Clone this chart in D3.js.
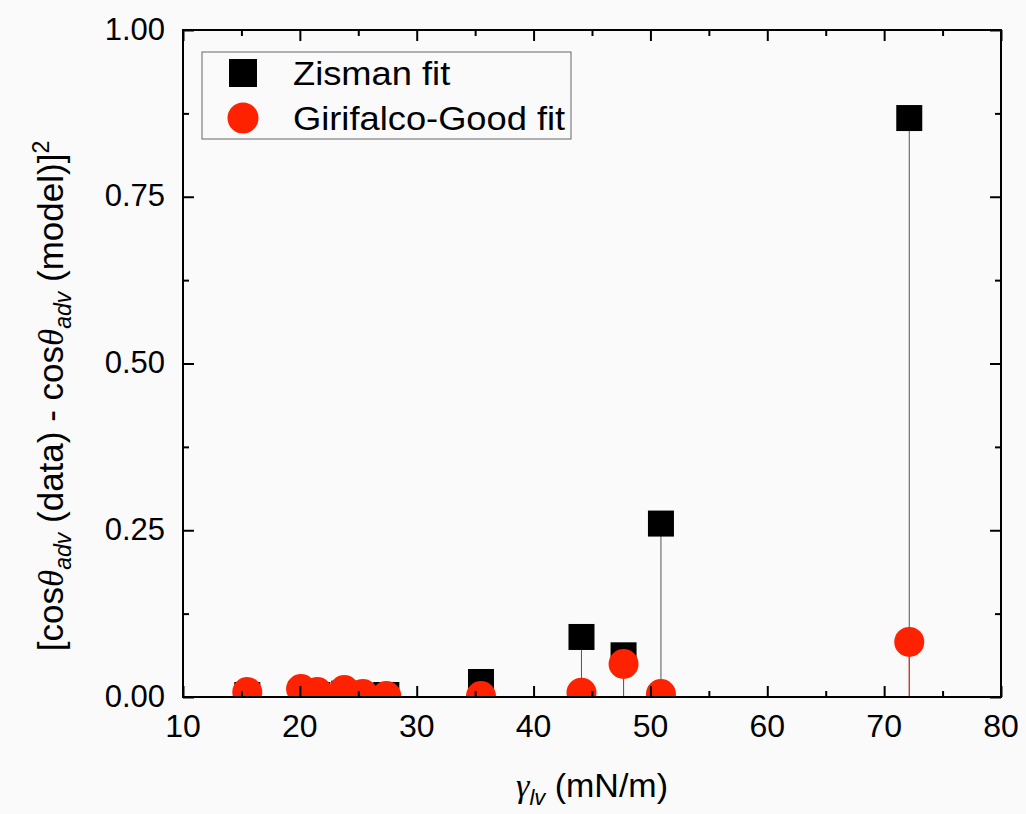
<!DOCTYPE html>
<html>
<head>
<meta charset="utf-8">
<script src="https://cdn.jsdelivr.net/npm/d3@7"></script>
<style>
  body { margin: 0; background: #fafafa; }
  text { font-family: 'Liberation Sans', Arial, sans-serif; }
  .greek { font-family: 'Liberation Serif', 'Times New Roman', serif; font-style: italic; }
</style>
</head>
<body>
<script>
// surface tension of each liquid (mN/m)
let gammaLv = [15.5, 20.1, 21.5, 23.8, 25.4, 27.4, 35.5, 44.1, 47.7, 50.9, 72.15]
// squared residuals of each model
let zisman = [0.003, 0.004, 0.003, 0.005, 0.002, 0.003, 0.0225, 0.09, 0.0625, 0.26, 0.868]
let girifalco = [0.0075, 0.012, 0.0075, 0.0105, 0.0045, 0.0015, 0.0015, 0.0065, 0.0495, 0.0045, 0.0825]

let xTicks = [10, 20, 30, 40, 50, 60, 70, 80]
let yTicks = [0, 0.25, 0.5, 0.75, 1.0]
let legendLabels = ['Zisman fit', 'Girifalco-Good fit']

let m = { width: 1026, height: 814, left: 183, right: 1001, top: 30, bottom: 697 }
let red = '#ff2200'

let svg = d3.select('body')
  .append('svg')
  .attr('width', m.width)
  .attr('height', m.height)

let x = d3.scaleLinear().domain([10, 80]).range([m.left, m.right])
let y = d3.scaleLinear().domain([0, 1]).range([m.bottom, m.top])

svg.append('clipPath')
  .attr('id', 'plotclip')
  .append('rect')
  .attr('x', m.left)
  .attr('y', m.top)
  .attr('width', m.right - m.left)
  .attr('height', m.bottom - m.top)

let plot = svg.append('g').attr('clip-path', 'url(#plotclip)')

// drop lines, Zisman then Girifalco-Good
plot.selectAll('.zline')
  .data(gammaLv)
  .enter()
  .append('line')
    .attr('x1', function(d) { return x(d) })
    .attr('x2', function(d) { return x(d) })
    .attr('y1', function(d, i) { return y(zisman[i]) })
    .attr('y2', y(0))
    .attr('stroke', '#555')
    .attr('stroke-width', 1)

plot.selectAll('.zsq')
  .data(gammaLv)
  .enter()
  .append('rect')
    .attr('x', function(d) { return x(d) - 13 })
    .attr('y', function(d, i) { return y(zisman[i]) - 13 })
    .attr('width', 26)
    .attr('height', 26)
    .attr('fill', '#000')

plot.selectAll('.gline')
  .data(gammaLv)
  .enter()
  .append('line')
    .attr('x1', function(d) { return x(d) })
    .attr('x2', function(d) { return x(d) })
    .attr('y1', function(d, i) { return y(girifalco[i]) })
    .attr('y2', y(0))
    .attr('stroke', red)
    .attr('stroke-width', 1)

plot.selectAll('.gdot')
  .data(gammaLv)
  .enter()
  .append('circle')
    .attr('cx', function(d) { return x(d) })
    .attr('cy', function(d, i) { return y(girifalco[i]) })
    .attr('r', 15)
    .attr('fill', red)

// axes: major + minor ticks pointing inward on all four sides
let xMinor = d3.range(15, 80, 10)
let yMinor = d3.range(0.125, 1, 0.25)

function tickAxis(axisFn, scale, values, len, tr) {
  let g = svg.append('g')
    .attr('transform', tr)
    .call(axisFn(scale).tickValues(values).tickSize(len).tickFormat(''))
  g.select('.domain').remove()
  g.selectAll('line').attr('stroke', '#000').attr('stroke-width', 2)
  return g
}

tickAxis(d3.axisTop, x, xTicks, 11, 'translate(0,' + m.bottom + ')')
tickAxis(d3.axisTop, x, xMinor, 6, 'translate(0,' + m.bottom + ')')
tickAxis(d3.axisBottom, x, xTicks, 11, 'translate(0,' + m.top + ')')
tickAxis(d3.axisBottom, x, xMinor, 6, 'translate(0,' + m.top + ')')
tickAxis(d3.axisRight, y, yTicks, 11, 'translate(' + m.left + ',0)')
tickAxis(d3.axisRight, y, yMinor, 6, 'translate(' + m.left + ',0)')
tickAxis(d3.axisLeft, y, yTicks, 11, 'translate(' + m.right + ',0)')
tickAxis(d3.axisLeft, y, yMinor, 6, 'translate(' + m.right + ',0)')

svg.append('rect')
  .attr('x', m.left)
  .attr('y', m.top)
  .attr('width', m.right - m.left)
  .attr('height', m.bottom - m.top)
  .attr('fill', 'none')
  .attr('stroke', '#000')
  .attr('stroke-width', 2)

// tick labels
svg.selectAll('.xlab')
  .data(xTicks)
  .enter()
  .append('text')
    .attr('x', function(d) { return x(d) })
    .attr('y', 737)
    .attr('text-anchor', 'middle')
    .attr('font-size', 32)
    .text(function(d) { return d })

svg.selectAll('.ylab')
  .data(yTicks)
  .enter()
  .append('text')
    .attr('x', 165)
    .attr('y', function(d) { return y(d) + 9.5 })
    .attr('text-anchor', 'end')
    .attr('font-size', 31)
    .text(function(d) { return d.toFixed(2) })

// axis titles
let xt = svg.append('text')
  .attr('x', 592)
  .attr('y', 797)
  .attr('text-anchor', 'middle')
  .attr('font-size', 34)
xt.append('tspan').attr('class', 'greek').text('γ')
xt.append('tspan').attr('font-style', 'italic').attr('font-size', 22).attr('dy', 8).text('lv')
xt.append('tspan').attr('dy', -8).text(' (mN/m)')

let yt = svg.append('text')
  .attr('transform', 'translate(63,396) rotate(-90)')
  .attr('text-anchor', 'middle')
  .attr('font-size', 35)
yt.append('tspan').text('[cos')
yt.append('tspan').attr('class', 'greek').text('θ')
yt.append('tspan').attr('font-style', 'italic').attr('font-size', 23).attr('dy', 8).text('adv')
yt.append('tspan').attr('dy', -8).text(' (data) - cos')
yt.append('tspan').attr('class', 'greek').text('θ')
yt.append('tspan').attr('font-style', 'italic').attr('font-size', 23).attr('dy', 8).text('adv')
yt.append('tspan').attr('dy', -8).text(' (model)]')
yt.append('tspan').attr('font-size', 23).attr('dy', -14).text('2')

// legend
svg.append('rect')
  .attr('x', 202)
  .attr('y', 52)
  .attr('width', 369)
  .attr('height', 87)
  .attr('fill', 'none')
  .attr('stroke', '#666')
  .attr('stroke-width', 1)

svg.append('rect')
  .attr('x', 243 - 14)
  .attr('y', 73 - 14)
  .attr('width', 28)
  .attr('height', 28)
  .attr('fill', '#000')

svg.append('circle')
  .attr('cx', 243)
  .attr('cy', 118)
  .attr('r', 15.5)
  .attr('fill', red)

svg.selectAll('.leglab')
  .data(legendLabels)
  .enter()
  .append('text')
    .attr('transform', function(d, i) { return 'translate(293,' + (85 + i * 44.5) + ') scale(1.1,1)' })
    .attr('font-size', 33)
    .text(function(d) { return d })
</script>
</body>
</html>
